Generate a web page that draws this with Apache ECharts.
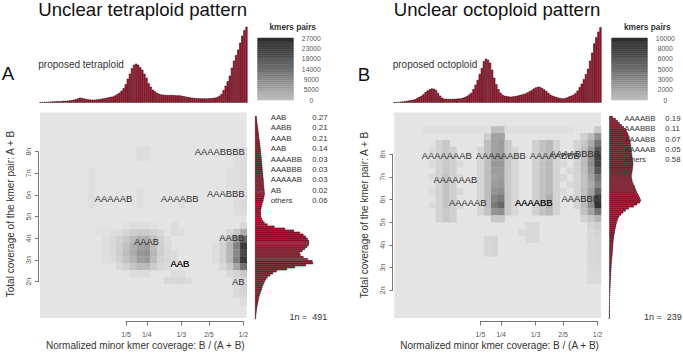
<!DOCTYPE html>
<html><head><meta charset="utf-8">
<script src="https://cdn.jsdelivr.net/npm/echarts@6/dist/echarts.min.js"></script>
<style>html,body{margin:0;padding:0;background:#fff}#c{width:683px;height:355px}</style>
</head><body><div id="c"></div>
<script>
const FONT = '"Liberation Sans", Arial, Helvetica, sans-serif';

// ---------------- DATA ----------------
const titleA = 'Unclear tetraploid pattern';
const titleB = 'Unclear octoploid pattern';
const proposedA = 'proposed tetraploid';
const proposedB = 'proposed octoploid';
const xTitle = 'Normalized minor kmer coverage: B / (A + B)';
const yTitle = 'Total coverage of the kmer pair: A + B';
const xTickFractions = [1/5, 1/4, 1/3, 2/5, 1/2];
const xTickLabels = ['1/5', '1/4', '1/3', '2/5', '1/2'];
const yTickN = [2, 3, 4, 5, 6, 7, 8];
const nBins = 30;

// coverage range of the heatmap, in units of 1n
const yRangeA = [0.325, 9.81];
const yRangeB = [0.78, 9.84];
const oneNA = 491, oneNB = 239;

const scaleLabelsA = ['0', '5000', '9000', '14000', '18000', '23000', '27000'];
const scaleLabelsB = ['0', '2000', '3000', '5000', '6000', '8000', '10000'];
const scaleMaxA = 27000, scaleMaxB = 10000;

const legendNamesA = ['AAB', 'AABB', 'AAAB', 'AAB', 'AAAABB', 'AAABBB', 'AAAAAB', 'AB', 'others'];
const legendValsA  = ['0.27', '0.21', '0.21', '0.14', '0.03', '0.03', '0.03', '0.02', '0.06'];
const legendNamesB = ['AAAABB', 'AAABBB', 'AAAABB', 'AAAAAB', 'others'];
const legendValsB  = ['0.19', '0.11', '0.07', '0.05', '0.58'];

// top histograms (minor kmer coverage), 100 bins
const topHistA = [0.5,0.6,0.7,0.8,0.9,1.0,1.2,1.3,1.4,1.5,1.6,1.8,1.9,2.0,2.3,2.5,3.0,3.5,4.2,5.0,
  4.8,4.3,3.7,3.3,3.2,3.0,3.0,3.2,3.5,3.8,4.2,4.6,5.0,5.5,5.9,6.2,7.3,8.5,10,12,
  14.6,18.5,24,29,34.5,38,39,38,35.5,33,29,25,19.5,16,13,11.5,10,9,8.3,8,
  7.8,7.7,7.7,7.7,7.6,7.4,7.3,7.3,6.9,6.5,6.1,5.7,5.3,5.0,4.7,4.5,4.4,4.3,4.3,4.3,
  4.3,4.4,4.6,4.8,5.1,5.6,7.0,8.8,12.6,17,21.5,27,35,42,47.5,53,60,67,72.5,76];
const topHistB = [0.3,0.5,0.7,0.9,1.2,1.5,1.8,2.2,2.6,3.0,3.6,4.7,5.8,6.9,8.5,10.7,12.3,13.5,14.2,14.0,
  12.7,9.8,7.0,5.0,4.0,3.9,3.8,3.7,3.8,3.9,4.0,4.2,4.3,5.0,5.7,6.8,8.2,9.9,13.5,18,
  22.7,28.7,34.7,41.5,44,43,40,33,25,18.5,13.5,10,8,7,6.6,6.2,6.0,6.3,6.6,7.0,
  7.5,8.0,8.6,9.2,10.3,11.5,12.7,14.2,15.3,16,15.7,14.7,13.2,11.7,9.8,8.0,7.0,6.2,5.5,5.0,
  4.6,4.3,4.6,5.2,6.2,7.0,8.0,9.6,12,15.5,19,23.5,28.5,34,42,50,59.3,65.5,71,75.5];

// side histograms (total coverage), 100 bins, top = high coverage
const sideHistA = [1.7,1.9,2.1,2.3,2.6,2.9,3.2,3.4,3.7,3.9,4.1,4.4,4.7,5.0,5.2,5.5,5.7,5.9,6.0,6.3,
  6.5,6.7,6.9,7.0,7.2,7.4,7.6,7.8,8.0,8.2,8.4,8.6,8.7,8.8,9.0,9.2,9.4,9.6,9.7,9.4,
  9.0,8.5,7.9,7.3,6.8,6.3,6.0,6.0,6.0,6.0,6.8,7.8,9.5,12.5,19.5,30,39,45,48.5,51,
  52.7,54,54.3,53.7,52.3,50,47.5,45,45.5,48.5,53,57.5,58,51,40,32,21.7,18,15.3,12.5,
  11,9.8,8.9,8,7.3,6.7,6.0,5.3,4.5,4.0,3.6,3.2,2.8,2.4,2.1,1.8,1.5,1.3,1.1,1.0];
const sideHistB = [3.5,6.4,8.4,10.3,12.3,14.5,16.2,17.5,18.5,19.3,20.1,20.6,21.0,21.3,21.6,21.9,22.2,22.4,22.6,22.9,
  23.2,23.5,23.8,24.0,23.8,23.5,23.3,23.0,22.6,22.3,22.6,23.0,23.3,24.2,25.3,26.0,26.8,27.6,28.7,29.8,
  30.8,31.6,30.9,28.0,24.5,19.5,16.5,14.0,12.0,10.0,8.9,8.1,7.5,7.0,6.6,6.1,5.7,5.4,5.0,4.7,
  4.5,4.2,4.0,3.9,3.7,3.6,3.4,3.3,3.1,2.9,2.7,2.5,2.3,2.2,2.1,2.0,1.9,1.8,1.7,1.6,
  1.5,1.4,1.3,1.2,1.1,1.0,0.9,0.8,0.7,0.6,0.5,0.4,0.4,0.3,0.3,0.3,0.2,0.2,0.2,0.2];

// heatmap cells: [column bin, row bin, kmer pairs]
const cellsA = [
  [11,12,1100],[12,12,2000],[13,12,3000],[14,12,3500],[15,12,3500],[16,12,2500],[17,12,1500],
  [10,11,1500],[11,11,2500],[12,11,4000],[13,11,6000],[14,11,7500],[15,11,7500],[16,11,5000],[17,11,2500],[18,11,1200],
  [10,10,1500],[11,10,3000],[12,10,5000],[13,10,7500],[14,10,10000],[15,10,10500],[16,10,6000],[17,10,3000],[18,10,1500],
  [10,9,1500],[11,9,3000],[12,9,5500],[13,9,8000],[14,9,11000],[15,9,11500],[16,9,6500],[17,9,3000],[18,9,1500],[19,9,1200],
  [10,8,1200],[11,8,2500],[12,8,4500],[13,8,7000],[14,8,10000],[15,8,10500],[16,8,5500],[17,8,2500],[18,8,1500],[19,8,1200],
  [11,7,1500],[12,7,2500],[13,7,4500],[14,7,6000],[15,7,6000],[16,7,3500],[17,7,1800],[18,7,1200],
  [13,6,1000],[14,6,1200],[15,6,1200],
  [9,8,800],[9,9,900],[9,10,900],[9,11,800],[9,12,600],[10,12,800],[8,12,600],
  [12,13,600],[13,13,800],[14,13,800],[15,13,800],[16,13,600],
  [29,13,1500],[29,12,8000],[29,11,18000],[29,10,24000],[29,9,22000],[29,8,24000],[29,7,16000],[29,6,4000],[29,5,2000],
  [28,12,4000],[28,11,11000],[28,10,14000],[28,9,13000],[28,8,14000],[28,7,9000],[28,6,2500],[28,5,1500],
  [27,12,2000],[27,11,5000],[27,10,6500],[27,9,6500],[27,8,6500],[27,7,4000],[27,6,1500],
  [26,11,2000],[26,10,2500],[26,9,2500],[26,8,2500],[26,7,1500],
  [25,10,1000],[25,9,1000],[25,8,1000],
  [28,3,1500],[28,4,1500],[29,3,2000],[29,4,2500],[29,2,1200],
  [18,5,1500],[19,5,1800],[20,5,1800],[21,5,1200],[19,6,1200],[20,6,1000],
  [19,12,1200],[19,13,1200],[20,12,800],
  [14,23,1200],[14,24,1200],[15,23,900],[15,24,900],
  [7,16,800],[7,17,800],[7,18,800],[7,19,800],[7,20,800],[7,21,800],
  [14,16,900],[14,17,900],[14,18,900],[20,16,900],[20,17,900],
  [28,15,900],[28,16,900],[28,17,900],[28,18,900],[28,19,900],[28,20,900],[28,21,900],[28,22,900],[28,23,900],[28,24,900],
  [29,15,1100],[29,16,1500],[29,17,1500],[29,18,1100],[29,19,1100],[29,20,1100],[29,21,1100],[29,22,1100],[29,23,1100],[29,24,1100],
  [27,19,800],[27,20,800],[27,21,800]
];
const cellsB = [
  [29,27,1500],[29,26,4200],[29,25,5800],[29,24,7400],[29,23,8400],[29,22,8400],[29,21,7400],[29,20,5800],[29,19,5000],
  [29,18,6600],[29,17,8400],[29,16,9300],[29,15,5800],[29,14,2500],[29,13,1200],[29,12,900],
  [29,11,700],[29,10,700],[29,9,700],[29,8,700],[29,7,600],[29,6,600],[29,5,500],
  [28,26,2000],[28,25,3000],[28,24,4000],[28,23,4500],[28,22,4500],[28,21,4000],[28,20,3500],[28,19,3000],
  [28,18,3500],[28,17,4000],[28,16,4500],[28,15,3500],[28,14,1500],[28,13,800],
  [28,12,600],[28,11,600],[28,10,600],[28,9,600],[28,8,600],[28,7,600],[28,6,500],[28,5,500],
  [27,26,1000],[27,25,1500],[27,24,2000],[27,23,2200],[27,22,2200],[27,21,2000],[27,20,1800],[27,19,1800],
  [27,18,2000],[27,17,2200],[27,16,2200],[27,15,1800],[27,14,900],
  [26,16,900],[26,17,900],[26,18,900],[26,19,900],[26,20,900],[26,21,900],[26,22,900],[26,23,900],[26,24,900],[26,25,900],
  [14,27,2000],[14,26,3500],[14,25,3500],[14,24,3500],[14,23,3800],[14,22,4000],[14,21,3800],[14,20,3500],
  [14,19,3800],[14,18,4200],[14,17,5000],[14,16,5500],[14,15,4200],[14,14,1500],
  [15,27,2000],[15,26,3500],[15,25,3800],[15,24,3800],[15,23,4000],[15,22,4000],[15,21,3800],[15,20,3800],
  [15,19,4000],[15,18,4500],[15,17,5500],[15,16,6600],[15,15,4500],[15,14,1500],
  [13,26,1200],[13,25,2000],[13,24,2000],[13,23,2000],[13,22,2000],[13,21,2000],[13,20,2000],[13,19,2000],[13,18,2000],[13,17,2000],[13,16,2000],[13,15,1800],
  [16,25,1400],[16,24,1400],[16,23,1400],[16,22,1400],[16,21,1400],[16,20,1400],[16,19,1400],[16,18,1400],[16,17,1400],[16,16,1400],[16,15,1400],
  [12,24,800],[12,23,800],[12,22,800],[12,21,800],[12,20,800],[12,19,800],[12,18,800],[12,17,800],[12,16,800],[12,15,800],
  [17,24,700],[17,23,700],[17,22,700],[17,21,700],[17,20,700],[17,19,700],[17,18,700],[17,17,700],[17,16,700],[17,15,700],
  [21,25,1800],[21,24,1800],[21,23,1800],[21,22,1800],[21,21,1800],[21,20,1800],[21,19,1800],[21,18,1800],[21,17,1800],[21,16,1800],[21,15,1800],
  [22,25,2200],[22,24,2200],[22,23,2200],[22,22,2200],[22,21,2200],[22,20,2200],[22,19,2200],[22,18,2200],[22,17,2800],[22,16,2800],[22,15,2200],
  [20,25,1000],[20,24,1000],[20,23,1000],[20,22,1000],[20,21,1000],[20,20,1000],[20,19,1000],[20,18,1000],[20,17,1000],[20,16,1000],[20,15,1000],
  [23,25,900],[23,24,900],[23,23,900],[23,22,900],[23,21,900],[23,20,900],[23,19,900],[23,18,900],[23,17,900],[23,16,900],[23,15,900],
  [24,22,600],[24,20,600],[24,18,600],[25,21,600],[25,19,600],[25,17,600],
  [6,25,900],[6,24,900],[6,23,900],[6,22,900],[6,21,900],[6,20,900],[6,19,900],[6,18,900],[6,17,900],[6,16,900],[6,15,900],[6,14,900],
  [7,25,1500],[7,24,1500],[7,23,1500],[7,22,1500],[7,21,1500],[7,20,1800],[7,19,1800],[7,18,1800],[7,17,1800],[7,16,1800],[7,15,1500],[7,14,1500],
  [8,24,1100],[8,23,1100],[8,22,1100],[8,21,1100],[8,20,1100],[8,19,1100],[8,18,1100],[8,17,1100],[8,16,1100],[8,15,1100],[8,14,1100],
  [5,24,500],[5,22,500],[5,20,500],[5,18,500],[5,16,500],
  [9,22,600],[9,20,600],[9,18,600],[9,16,600],
  [13,9,700],[13,10,700],[13,11,700],[14,9,800],[14,10,800],[14,11,800],
  [19,11,600],[19,12,600],[19,13,600],[20,11,600],[20,12,600],[20,13,600],[18,12,500],
  [4,27,250],[5,27,250],[6,27,250],[7,27,250],[8,27,250],[9,27,250],[10,27,250],[11,27,250],[12,27,250],[13,27,250],
  [16,27,250],[17,27,250],[18,27,250],[19,27,250],[20,27,250],[21,27,250],[22,27,250],[23,27,250],[24,27,250],[25,27,250]
];

// smudge labels: [column bin, coverage in n, text]
const labelsA = [
  [26.1, 8.02, 'AAAABBBB'], [10.67, 5.85, 'AAAAAB'], [20.28, 5.85, 'AAAABB'], [26.95, 6.05, 'AAABBB'],
  [15.46, 3.85, 'AAAB'], [27.84, 4.02, 'AABB'], [20.29, 2.86, 'AAB'], [28.77, 2.0, 'AB']
];
const labelsB = [
  [7.6, 7.93, 'AAAAAAAB'], [15.46, 7.93, 'AAAAAABB'], [23.28, 7.93, 'AAAAABBB'], [26.23, 8.05, 'AAAABBBB'],
  [8.85, 6.9, 'AAAAAAB'], [10.65, 5.88, 'AAAAAB'], [20.25, 5.88, 'AAAABB'], [27.0, 6.04, 'AAABBB']
];
const boldLabels = ['AAB', 'AAAABB'];

// ---------------- HELPERS ----------------
function greyOf(t) {
  const g = Math.round(228 - 190 * Math.max(0, Math.min(1, t)));
  return 'rgb(' + g + ',' + g + ',' + g + ')';
}
const tickPos = xTickFractions.map(f => Math.min(Math.floor(f * 60 + 1e-9), nBins - 1) + 0.5);
const tickLabelOf = {};
tickPos.forEach((p, i) => { tickLabelOf[p.toFixed(1)] = xTickLabels[i]; });
const idx100 = Array.from({length: 100}, (_, i) => i);

const HIST_FILL = '#c4102f', HIST_EDGE = '#2a070c';

function heatRender(yr, maxV) {
  const h = (yr[1] - yr[0]) / nBins;
  return function (params, api) {
    const c = api.value(0), r = api.value(1), v = api.value(2);
    const p0 = api.coord([c, yr[0] + r * h]);
    const p1 = api.coord([c + 1, yr[0] + (r + 1) * h]);
    return {type: 'rect', shape: {x: p0[0], y: p1[1], width: p1[0] - p0[0] + 0.3, height: p0[1] - p1[1] + 0.3},
      style: {fill: greyOf(v / maxV)}};
  };
}
// smudge label drawn as text at its data coordinate
function labelRender(color) {
  return function (params, api) {
    const p = api.coord([api.value(0), api.value(1)]);
    return {type: 'text', x: p[0], y: p[1], z2: 10,
      style: {text: o_names[params.seriesIndex][params.dataIndex], fontFamily: FONT, fontSize: 9.4,
        fill: color, align: 'center', verticalAlign: 'middle'}};
  };
}
const o_names = {};
function scaleRender(params, api) {
  const k = api.value(0);
  const p0 = api.coord([0, k * 6 / 30]);
  const p1 = api.coord([1, (k + 1) * 6 / 30]);
  const t = 0.12 + 0.82 * (k / 29);
  return {type: 'rect', shape: {x: p0[0], y: p1[1], width: p1[0] - p0[0], height: p0[1] - p1[1]},
    style: {fill: greyOf(t), stroke: greyOf(Math.min(1, t + 0.25)), lineWidth: 0.5}};
}

const grids = [], xAxes = [], yAxes = [], series = [];
function addGrid(g, xa, ya) {
  grids.push(Object.assign({containLabel: false, show: false, borderWidth: 0}, g));
  const gi = grids.length - 1;
  xAxes.push(Object.assign({gridIndex: gi, show: false}, xa));
  yAxes.push(Object.assign({gridIndex: gi, show: false}, ya));
  return gi;
}
const hiddenVal = (min, max) => ({type: 'value', min: min, max: max, show: false,
  splitLine: {show: false}, axisLine: {show: false}, axisTick: {show: false}, axisLabel: {show: false}});

function addLabelSeries(gh, list, color, z) {
  o_names[series.length] = list.map(l => l[2]);
  series.push({type: 'custom', xAxisIndex: gh, yAxisIndex: gh, renderItem: labelRender(color), z: z,
    data: list.map(l => [l[0], l[1]]), silent: true, clip: false});
}

function buildPanel(dx, o) {
  // heatmap
  const gh = addGrid({left: 40 + dx, top: 112.5, width: 206.7, height: 205.5, show: true, backgroundColor: '#e4e4e4'},
    hiddenVal(0, nBins), hiddenVal(o.yr[0], o.yr[1]));
  series.push({type: 'custom', xAxisIndex: gh, yAxisIndex: gh, renderItem: heatRender(o.yr, o.maxV),
    data: o.cells, silent: true, animation: false});
  addLabelSeries(gh, o.labels, '#2e2e2e', 5);
  // bolder (overdrawn) labels
  addLabelSeries(gh, o.labels.filter(l => boldLabels.indexOf(l[2]) >= 0 && !(o.skipBold || []).includes(l[2])), '#111', 6);

  // x axis (partial line from first to last tick)
  addGrid({left: 126.1 + dx, top: 320.5, width: 117.2, height: 1},
    {type: 'value', show: true, min: tickPos[0], max: tickPos[tickPos.length - 1], position: 'bottom',
      splitLine: {show: false},
      axisLine: {show: true, lineStyle: {color: '#555', width: 0.8}},
      axisTick: {show: true, customValues: tickPos, length: 4, lineStyle: {color: '#555', width: 0.8}},
      axisLabel: {show: true, customValues: tickPos, formatter: v => tickLabelOf[Number(v).toFixed(1)] || '',
        fontFamily: FONT, fontSize: 7, color: '#555', margin: 9, showMinLabel: true, showMaxLabel: true}},
    hiddenVal(0, 1));
  // y axis
  addGrid({left: o.yAxisX + dx, top: o.yTop, width: 1, height: o.yH},
    hiddenVal(0, 1),
    {type: 'value', show: true, min: 2, max: 8, interval: 1, position: 'left',
      splitLine: {show: false},
      axisLine: {show: true, lineStyle: {color: '#555', width: 0.8}},
      axisTick: {show: true, length: 3.3, lineStyle: {color: '#555', width: 0.8}},
      axisLabel: {show: true, rotate: 90, formatter: v => yTickN.indexOf(v) >= 0 ? v + 'n' : '',
        fontFamily: FONT, fontSize: 7, color: '#555', margin: 6.5}});

  // top histogram
  const gt = addGrid({left: o.topLeft + dx, top: 20, width: 208.2, height: 82.7},
    {type: 'category', data: idx100, show: false, boundaryGap: true}, hiddenVal(0, 82.7));
  series.push({type: 'bar', xAxisIndex: gt, yAxisIndex: gt, data: o.top, barCategoryGap: '0%', silent: true,
    itemStyle: {color: HIST_FILL, borderColor: HIST_EDGE, borderWidth: 0.55}});

  // side histogram
  const gs = addGrid({left: o.sideLeft + dx, top: 116, width: 70, height: 203},
    hiddenVal(0, 70), {type: 'category', data: idx100, show: false, inverse: true, boundaryGap: true});
  series.push({type: 'bar', xAxisIndex: gs, yAxisIndex: gs, data: o.side, barCategoryGap: '0%', silent: true,
    itemStyle: {color: HIST_FILL, borderColor: HIST_EDGE, borderWidth: 0.55}});

  // colour scale box
  const gk = addGrid({left: o.keyLeft + dx, top: 38, width: 35.6, height: 62},
    hiddenVal(0, 1),
    {type: 'value', show: true, min: 0, max: 6, interval: 1, position: 'right',
      splitLine: {show: false}, axisLine: {show: false}, axisTick: {show: false},
      axisLabel: {show: true, formatter: v => o.scaleLabels[v] || '', align: 'center',
        fontFamily: FONT, fontSize: 6.8, color: '#555', margin: 18}});
  series.push({type: 'custom', xAxisIndex: gk, yAxisIndex: gk, renderItem: scaleRender,
    data: Array.from({length: 30}, (_, i) => [i]), silent: true});
}

buildPanel(0, {yr: yRangeA, maxV: scaleMaxA, cells: cellsA, labels: labelsA, yAxisX: 38.3, yTop: 151.7, yH: 130,
  topLeft: 39.3, sideLeft: 255, keyLeft: 257.7, top: topHistA, side: sideHistA, scaleLabels: scaleLabelsA,
  skipBold: ['AAAABB']});
buildPanel(354.3, {yr: yRangeB, maxV: scaleMaxB, cells: cellsB, labels: labelsB, yAxisX: 38.3, yTop: 154.3, yH: 136,
  topLeft: 39.0, sideLeft: 255, keyLeft: 257.4, top: topHistB, side: sideHistB, scaleLabels: scaleLabelsB,
  skipBold: ['AAB']});

// ---------------- TEXT ----------------
const T = (x, y, text, size, opt) => Object.assign({type: 'text', x: x, y: y, z: 100,
  style: Object.assign({text: text, fontFamily: FONT, fontSize: size, fill: '#333', align: 'left', verticalAlign: 'middle'},
    opt || {})});
const graphics = [
  T(38.3, 9.6, titleA, 18.6, {fill: '#111'}),
  T(393.7, 9.6, titleB, 18.6, {fill: '#111'}),
  T(1.7, 73.5, 'A', 18.6, {fill: '#111'}),
  T(357.7, 74.3, 'B', 18.6, {fill: '#111'}),
  T(38.3, 64.6, proposedA, 10),
  T(392.7, 64.9, proposedB, 10),
  T(292.7, 27.3, 'kmers pairs', 8.3, {align: 'center', fontWeight: 'bold'}),
  T(647.3, 27.3, 'kmers pairs', 8.3, {align: 'center', fontWeight: 'bold'}),
  T(145.3, 345, xTitle, 10, {align: 'center'}),
  T(499.6, 345, xTitle, 10, {align: 'center'}),
  Object.assign(T(10.5, 214, yTitle, 10, {align: 'center'}), {rotation: Math.PI / 2}),
  Object.assign(T(364.5, 215, yTitle, 10, {align: 'center'}), {rotation: Math.PI / 2}),
  T(327.3, 317, '1n =  ' + oneNA, 9, {align: 'right'}),
  T(681.7, 317, '1n =  ' + oneNB, 9, {align: 'right'})
];
legendNamesA.forEach((n, i) => {
  graphics.push(T(270.7, 117.5 + 10.4 * i, n, 7.8));
  graphics.push(T(312.3, 117.5 + 10.4 * i, legendValsA[i], 7.8));
});
legendNamesB.forEach((n, i) => {
  graphics.push(T(624.3, 118.3 + 10.35 * i, n, 7.8));
  graphics.push(T(665.3, 118.3 + 10.35 * i, legendValsB[i], 7.8));
});

const chart = echarts.init(document.getElementById('c'), null, {renderer: 'svg', width: 683, height: 355});
chart.setOption({
  animation: false,
  backgroundColor: '#fff',
  grid: grids, xAxis: xAxes, yAxis: yAxes, series: series,
  graphic: {elements: graphics}
});
</script></body></html>
